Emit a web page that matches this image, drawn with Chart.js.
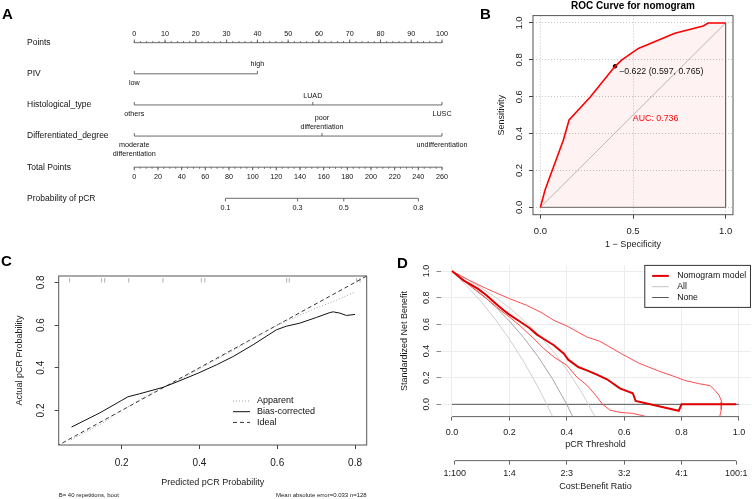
<!DOCTYPE html>
<html><head><meta charset="utf-8">
<title>Nomogram, ROC, calibration and decision curve</title>
<script src="https://cdn.jsdelivr.net/npm/chart.js@4.4.1/dist/chart.umd.min.js"></script>
<style>
html,body{margin:0;padding:0;background:#fff;}
body{position:relative;width:752px;height:499px;overflow:hidden;}
canvas{position:absolute;}
.lt{position:absolute;font:bold 15px/15px 'Liberation Sans',Arial,sans-serif;color:#000;}
</style></head>
<body>
<canvas id="cA" width="480" height="250" style="left:0;top:0;width:480px;height:250px"></canvas>
<canvas id="cB" width="272" height="250" style="left:480px;top:0;width:272px;height:250px"></canvas>
<canvas id="cC" width="376" height="249" style="left:0;top:250px;width:376px;height:249px"></canvas>
<canvas id="cD" width="376" height="249" style="left:376px;top:250px;width:376px;height:249px"></canvas>
<div class="lt" style="left:2px;top:6px">A</div>
<div class="lt" style="left:480px;top:6px">B</div>
<div class="lt" style="left:1px;top:253px">C</div>
<div class="lt" style="left:397px;top:255px">D</div>
<script>
// ================= DATA =================
// Panel A: nomogram
const nomoRows = ['Points','PIV','Histological_type','Differentiated_degree','Total Points','Probability of pCR'];
const pointsLabels = [0,10,20,30,40,50,60,70,80,90,100];
const pointsMinorStep = 2;
const pivLevels = ['low','high'];
const pivPoints = [0,40];
const histLevels = ['others','LUAD','LUSC'];
const histPoints = [0,58,100];
const diffLevels = [['moderate','differentiation'],['poor','differentiation'],['undifferentiation']];
const diffPoints = [0,61,100];
const totalLabels = [0,20,40,60,80,100,120,140,160,180,200,220,240,260];
const totalMinorStep = 5;
const probLabels = ['0.1','0.3','0.5','0.8'];
const probTotals = [77,138,177,240];

// Panel B: ROC
const rocFpr = [0,0.025,0.124,0.155,0.268,0.403,0.44,0.529,0.726,0.879,0.906,1];
const rocTpr = [0,0.094,0.365,0.474,0.597,0.765,0.80,0.862,0.944,0.984,1.0,1.0];
const cutFpr = [0.403];
const cutTpr = [0.765];
const cutText = '\u22120.622 (0.597, 0.765)';
const aucText = 'AUC: 0.736';
const aucTextPos = [0.622, 0.483];
const diagX = [0,1];
const diagY = [0,1];
const rocXTicks = [0,0.5,1];
const rocYTicks = [0,0.2,0.4,0.6,0.8,1];

// Panel C: calibration
const calPredBias = [0.071,0.143,0.2,0.216,0.246,0.306,0.341,0.397,0.444,0.487,0.538,0.598,0.624,0.658,0.701,0.736,0.744,0.761,0.778,0.8];
const calObsBias  = [0.122,0.188,0.247,0.264,0.278,0.308,0.333,0.375,0.414,0.453,0.508,0.578,0.595,0.609,0.636,0.659,0.662,0.656,0.645,0.65];
const calPredApp = [0.07,0.15,0.2,0.25,0.3,0.35,0.4,0.45,0.5,0.55,0.6,0.65,0.7,0.75,0.8];
const calObsApp  = [0.063,0.14,0.2,0.255,0.302,0.345,0.395,0.445,0.495,0.55,0.6,0.64,0.68,0.715,0.755];
const idealX = [0,1];
const idealY = [0,1];
const rugPred = [0.066,0.148,0.156,0.218,0.306,0.405,0.414,0.624,0.631,0.804,0.813];
const calTicks = [0.2,0.4,0.6,0.8];
const calLegend = ['Apparent','Bias-corrected','Ideal'];
const calFootLeft = 'B= 40 repetitions, boot';
const calFootRight = 'Mean absolute error=0.033 n=128';

// Panel D: decision curve
const nomoThr = [0,0.04,0.09,0.12,0.155,0.18,0.2,0.235,0.27,0.295,0.32,0.355,0.39,0.405,0.44,0.47,0.505,0.54,0.585,0.63,0.64,0.79,0.80,0.99];
const nomoNB  = [1,0.93,0.868,0.818,0.75,0.705,0.673,0.623,0.573,0.525,0.49,0.443,0.38,0.335,0.28,0.255,0.223,0.188,0.12,0.083,0.025,-0.048,0,0];
const nomoHiThr = [0,0.06,0.12,0.2,0.26,0.31,0.355,0.4,0.47,0.515,0.59,0.65,0.72,0.78,0.81,0.86,0.9,0.915,0.93,0.94,0.938,0.933];
const nomoHiNB  = [1,0.93,0.868,0.793,0.743,0.69,0.63,0.588,0.505,0.473,0.38,0.31,0.25,0.205,0.18,0.155,0.14,0.107,0.07,0.02,-0.04,-0.093];
const nomoLoThr = [0,0.06,0.12,0.155,0.2,0.235,0.285,0.32,0.355,0.4,0.435,0.47,0.5,0.525,0.55,0.585,0.63,0.68];
const nomoLoNB  = [1,0.893,0.793,0.73,0.655,0.593,0.493,0.418,0.355,0.293,0.205,0.143,0.07,0,-0.043,-0.06,-0.068,-0.093];
const allThr = [0,0.05,0.1,0.15,0.2,0.25,0.3,0.35,0.4,0.42];
const allNB  = [1,0.92,0.833,0.735,0.625,0.5,0.357,0.192,0,-0.09];
const allLoThr = [0,0.05,0.1,0.15,0.2,0.25,0.3,0.33,0.35];
const allLoNB  = [1,0.89,0.775,0.64,0.49,0.32,0.13,0,-0.09];
const allHiThr = [0,0.05,0.1,0.15,0.2,0.25,0.3,0.35,0.4,0.45,0.475,0.5];
const allHiNB  = [1,0.94,0.877,0.805,0.724,0.63,0.525,0.405,0.263,0.096,0,-0.1];
const noneThr = [0,1];
const noneNB  = [0,0];
const dcaTicks = [0,0.2,0.4,0.6,0.8,1];
const costThr = [0.0099,0.2,0.4,0.6,0.8,0.9901];
const costLabels = ['1:100','1:4','2:3','3:2','4:1','100:1'];
const dcaLegend = ['Nomogram model','All','None'];

// ================= SETUP =================
const FONT = "'Liberation Sans', Arial, Helvetica, sans-serif";
Chart.defaults.font.family = FONT;
Chart.defaults.color = '#1a1a1a';
Chart.defaults.animation = false;
Chart.defaults.events = [];
Chart.defaults.plugins.legend.display = false;
Chart.defaults.plugins.tooltip.enabled = false;
const zip = (xs, ys) => xs.map((x, i) => ({x: x, y: ys[i]}));
const fixTicks = vals => (s => { s.ticks = vals.map(v => ({value: v})); });
const f1 = v => Number(v).toFixed(1);

// ================= PANEL A =================
const axisDs = (x0, x1, row, axisId) => ({
  type: 'line', data: [{x: x0, y: row}, {x: x1, y: row}], xAxisID: axisId,
  borderColor: '#5a5a5a', borderWidth: 0.9, pointRadius: 0, clip: false
});
const nomoPlugin = {
  id: 'nomo',
  afterDatasetsDraw(chart) {
    const ctx = chart.ctx, sx = chart.scales.x, st = chart.scales.xt, sy = chart.scales.y;
    const rowY = i => sy.getPixelForValue(i);
    ctx.save();
    ctx.fillStyle = '#111';
    ctx.textBaseline = 'middle';
    ctx.font = '8.5px ' + FONT; ctx.textAlign = 'left';
    nomoRows.forEach((t, i) => ctx.fillText(t, 27, rowY(i)));
    ctx.strokeStyle = '#5a5a5a'; ctx.lineWidth = 0.9;
    const tick = (px, y, len) => { ctx.beginPath(); ctx.moveTo(px, y); ctx.lineTo(px, y + len); ctx.stroke(); };
    ctx.font = '7.2px ' + FONT; ctx.textAlign = 'center';
    // Points axis
    let y = rowY(0);
    for (let v = pointsLabels[0]; v <= pointsLabels[pointsLabels.length - 1]; v += pointsMinorStep) tick(sx.getPixelForValue(v), y, -1.6);
    pointsLabels.forEach(v => { const px = sx.getPixelForValue(v); tick(px, y, -3.2); ctx.fillText(String(v), px, y - 8.7); });
    // categorical predictors
    const cat = (levels, pts, row) => {
      const yy = rowY(row);
      pts.forEach((p, k) => {
        const px = sx.getPixelForValue(p);
        tick(px, yy, -3);
        const lines = Array.isArray(levels[k]) ? levels[k] : [levels[k]];
        const above = k % 2 === 1;
        lines.forEach((ln, j) => {
          const off = above ? -(9.3 + 8.7 * (lines.length - 1 - j)) : (9.3 + 8.7 * j);
          ctx.fillText(ln, px, yy + off);
        });
      });
    };
    cat(pivLevels, pivPoints, 1);
    cat(histLevels, histPoints, 2);
    cat(diffLevels, diffPoints, 3);
    // Total points
    y = rowY(4);
    for (let v = totalLabels[0]; v <= totalLabels[totalLabels.length - 1]; v += totalMinorStep) tick(st.getPixelForValue(v), y, 1.6);
    totalLabels.forEach(v => { const px = st.getPixelForValue(v); tick(px, y, 3.2); ctx.fillText(String(v), px, y + 9.8); });
    // Probability
    y = rowY(5);
    probTotals.forEach((v, k) => { const px = st.getPixelForValue(v); tick(px, y, 3.2); ctx.fillText(probLabels[k], px, y + 9.4); });
    ctx.restore();
  }
};
new Chart(document.getElementById('cA'), {
  type: 'scatter',
  data: { datasets: [
    axisDs(pointsLabels[0], pointsLabels[pointsLabels.length - 1], 0, 'x'),
    axisDs(pivPoints[0], pivPoints[pivPoints.length - 1], 1, 'x'),
    axisDs(histPoints[0], histPoints[histPoints.length - 1], 2, 'x'),
    axisDs(diffPoints[0], diffPoints[diffPoints.length - 1], 3, 'x'),
    axisDs(totalLabels[0], totalLabels[totalLabels.length - 1], 4, 'xt'),
    axisDs(probTotals[0], probTotals[probTotals.length - 1], 5, 'xt')
  ]},
  options: {
    responsive: false,
    layout: { padding: { left: 134.3, right: 38, top: 42.7, bottom: 51.7 } },
    scales: {
      x: { type: 'linear', min: 0, max: 100, display: false },
      xt: { type: 'linear', axis: 'x', min: 0, max: 260, display: false },
      y: { type: 'linear', min: 0, max: 5, reverse: true, display: false }
    }
  },
  plugins: [nomoPlugin]
});

// ================= PANEL B =================
const rocPlugin = {
  id: 'rocDeco',
  afterDatasetsDraw(chart) {
    const ctx = chart.ctx, a = chart.chartArea, sx = chart.scales.x, sy = chart.scales.y;
    ctx.save();
    ctx.strokeStyle = '#555'; ctx.lineWidth = 1;
    ctx.strokeRect(a.left, a.top, a.right - a.left, a.bottom - a.top);
    ctx.font = '8.8px ' + FONT; ctx.textBaseline = 'middle';
    ctx.fillStyle = '#111'; ctx.textAlign = 'left';
    ctx.fillText(cutText, sx.getPixelForValue(cutFpr[0]) + 4, sy.getPixelForValue(cutTpr[0]) + 5.5);
    ctx.fillStyle = '#ff0000'; ctx.textAlign = 'center';
    ctx.fillText(aucText, sx.getPixelForValue(aucTextPos[0]), sy.getPixelForValue(aucTextPos[1]));
    ctx.restore();
  }
};
const rocGrid = { display: true, drawOnChartArea: true, color: '#c4c4c4', tickColor: '#444', tickLength: 4, lineWidth: 1 };
new Chart(document.getElementById('cB'), {
  type: 'scatter',
  data: { datasets: [
    { type: 'line', data: zip(rocFpr, rocTpr), borderColor: '#ff0000', borderWidth: 1.6, pointRadius: 0, order: 0 },
    { data: zip(cutFpr, cutTpr), pointRadius: 1.8, backgroundColor: '#000', borderColor: '#000', order: 0 },
    { type: 'line', data: [{x: 1, y: 1}, {x: 1, y: 0}, {x: 0, y: 0}], borderColor: '#666', borderWidth: 1, pointRadius: 0, order: 1 },
    { type: 'line', data: zip(diagX, diagY), borderColor: '#a8a8a8', borderWidth: 0.8, pointRadius: 0, order: 2 },
    { type: 'line', data: zip(rocFpr, rocTpr), fill: 'origin', backgroundColor: 'rgba(255,0,0,0.05)', borderWidth: 0, borderColor: 'rgba(0,0,0,0)', pointRadius: 0, order: 3 }
  ]},
  options: {
    responsive: false,
    layout: { padding: { left: 0, right: 19, top: 0, bottom: 0 } },
    plugins: {
      title: { display: true, text: 'ROC Curve for nomogram', color: '#000', font: { size: 10, weight: 'bold' }, padding: { top: 0, bottom: 3.6 }, fullSize: false }
    },
    scales: {
      x: {
        type: 'linear', min: -0.04, max: 1.04, afterBuildTicks: fixTicks(rocXTicks),
        ticks: { callback: f1, font: { size: 9.5 }, padding: 6.6, autoSkip: false, maxRotation: 0, color: '#1a1a1a' },
        grid: rocGrid, border: { display: false, dash: [1, 2] },
        title: { display: true, text: '1 \u2212 Specificity', font: { size: 9 }, padding: { top: 0, bottom: 0 }, color: '#1a1a1a' },
        afterFit: s => { s.height = 35.3; }
      },
      y: {
        type: 'linear', min: -0.04, max: 1.04, afterBuildTicks: fixTicks(rocYTicks),
        ticks: { callback: f1, font: { size: 9.5 }, padding: 3.4, autoSkip: false, minRotation: 90, maxRotation: 90, crossAlign: 'center', color: '#1a1a1a' },
        grid: rocGrid, border: { display: false, dash: [1, 2] },
        title: { display: true, text: 'Sensitivity', font: { size: 9 }, padding: { top: 16.3, bottom: 0 }, color: '#1a1a1a' },
        afterFit: s => { s.width = 53; }
      }
    }
  },
  plugins: [rocPlugin]
});

// ================= PANEL C =================
const calStyles = [
  { color: '#a0a0a0', dash: [1, 2], width: 1 },
  { color: '#111', dash: [], width: 1 },
  { color: '#333', dash: [4, 3], width: 1 }
];
const calPlugin = {
  id: 'calDeco',
  afterDatasetsDraw(chart) {
    const ctx = chart.ctx, a = chart.chartArea;
    ctx.save();
    ctx.strokeStyle = '#555'; ctx.lineWidth = 1;
    ctx.strokeRect(a.left, a.top, a.right - a.left, a.bottom - a.top);
    // legend
    ctx.font = '9px ' + FONT; ctx.textBaseline = 'middle'; ctx.textAlign = 'left'; ctx.fillStyle = '#111';
    calLegend.forEach((t, i) => {
      const y = 151 + i * 10.7, st = calStyles[i];
      ctx.strokeStyle = st.color; ctx.lineWidth = st.width; ctx.setLineDash(st.dash);
      ctx.beginPath(); ctx.moveTo(233, y); ctx.lineTo(250, y); ctx.stroke();
      ctx.setLineDash([]);
      ctx.fillText(t, 257, y);
    });
    // footer
    ctx.font = '6px ' + FONT; ctx.fillStyle = '#222';
    ctx.textAlign = 'left'; ctx.fillText(calFootLeft, a.left, 245);
    ctx.textAlign = 'right'; ctx.fillText(calFootRight, a.right, 245);
    ctx.restore();
  }
};
const calGrid = { display: true, drawOnChartArea: false, color: '#444', tickColor: '#444', tickLength: 4, lineWidth: 1 };
new Chart(document.getElementById('cC'), {
  type: 'scatter',
  data: { datasets: [
    { type: 'line', data: zip(calPredBias, calObsBias), borderColor: calStyles[1].color, borderWidth: 1, pointRadius: 0, order: 0 },
    { type: 'line', data: zip(calPredApp, calObsApp), borderColor: calStyles[0].color, borderDash: calStyles[0].dash, borderWidth: 1, pointRadius: 0, order: 1 },
    { type: 'line', data: zip(idealX, idealY), borderColor: calStyles[2].color, borderDash: calStyles[2].dash, borderWidth: 1, pointRadius: 0, order: 2 },
    { data: rugPred.map(v => ({x: v, y: 0.81})), pointStyle: 'line', rotation: 90, pointRadius: 2.2, borderColor: '#bdbdbd', borderWidth: 1.2, order: 3 }
  ]},
  options: {
    responsive: false,
    layout: { padding: { left: 0, right: 9.3, top: 26, bottom: 0 } },
    scales: {
      x: {
        type: 'linear', min: 0.038, max: 0.83, afterBuildTicks: fixTicks(calTicks),
        ticks: { callback: f1, font: { size: 10 }, padding: 8, autoSkip: false, maxRotation: 0, color: '#1a1a1a' },
        grid: calGrid, border: { display: false },
        title: { display: true, text: 'Predicted pCR Probability', font: { size: 9 }, padding: { top: 0, bottom: 10.6 }, color: '#1a1a1a' },
        afterFit: s => { s.height = 54; }
      },
      y: {
        type: 'linear', min: 0.038, max: 0.83, afterBuildTicks: fixTicks(calTicks),
        ticks: { callback: f1, font: { size: 10 }, padding: 6, autoSkip: false, minRotation: 90, maxRotation: 90, crossAlign: 'center', color: '#1a1a1a' },
        grid: calGrid, border: { display: false },
        title: { display: true, text: 'Actual pCR Probability', font: { size: 9 }, padding: { top: 14.6, bottom: 0 }, color: '#1a1a1a' },
        afterFit: s => { s.width = 58.7; }
      }
    }
  },
  plugins: [calPlugin]
});

// ================= PANEL D =================
const dcaStyles = [
  { color: '#e00000', width: 2 },
  { color: '#c4c4c4', width: 1 },
  { color: '#555', width: 1 }
];
const dcaPlugin = {
  id: 'dcaDeco',
  afterDatasetsDraw(chart) {
    const ctx = chart.ctx, a = chart.chartArea, sx = chart.scales.x, s2 = chart.scales.x2;
    ctx.save();
    ctx.strokeStyle = '#666'; ctx.lineWidth = 1;
    ctx.beginPath(); ctx.moveTo(sx.getPixelForValue(dcaTicks[0]), a.bottom); ctx.lineTo(sx.getPixelForValue(dcaTicks[dcaTicks.length - 1]), a.bottom); ctx.stroke();
    ctx.beginPath(); ctx.moveTo(s2.getPixelForValue(costThr[0]), s2.top); ctx.lineTo(s2.getPixelForValue(costThr[costThr.length - 1]), s2.top); ctx.stroke();
    // legend box
    const bx = a.right - 105.7, by = a.top, bw = 105.7, bh = 42;
    ctx.fillStyle = '#fff'; ctx.fillRect(bx, by, bw, bh);
    ctx.strokeStyle = '#333'; ctx.strokeRect(bx, by, bw, bh);
    ctx.font = '8.7px ' + FONT; ctx.textBaseline = 'middle'; ctx.textAlign = 'left'; ctx.fillStyle = '#111';
    dcaLegend.forEach((t, i) => {
      const y = by + 10.5 + i * 10.8, st = dcaStyles[i];
      ctx.strokeStyle = st.color; ctx.lineWidth = st.width;
      ctx.beginPath(); ctx.moveTo(bx + 7.4, y); ctx.lineTo(bx + 24, y); ctx.stroke();
      ctx.fillText(t, bx + 32.4, y);
    });
    ctx.restore();
  }
};
const dline = (xs, ys, color, width, order) => ({ type: 'line', data: zip(xs, ys), borderColor: color, borderWidth: width, pointRadius: 0, order: order });
new Chart(document.getElementById('cD'), {
  type: 'scatter',
  data: { datasets: [
    dline(nomoThr, nomoNB, dcaStyles[0].color, 2, 0),
    dline(nomoHiThr, nomoHiNB, '#ff4d4d', 1, 1),
    dline(nomoLoThr, nomoLoNB, '#ff4d4d', 1, 1),
    dline(allThr, allNB, '#a6a6a6', 1, 2),
    dline(allLoThr, allLoNB, '#cfcfcf', 1, 3),
    dline(allHiThr, allHiNB, '#cfcfcf', 1, 3),
    dline(noneThr, noneNB, dcaStyles[2].color, 1, 4)
  ]},
  options: {
    responsive: false,
    layout: { padding: { left: 0, right: 1.2, top: 15.4, bottom: 0 } },
    scales: {
      x: {
        type: 'linear', min: -0.04, max: 1.04, weight: 0, afterBuildTicks: fixTicks(dcaTicks),
        ticks: { callback: f1, font: { size: 9 }, padding: 6.7, autoSkip: false, maxRotation: 0, color: '#1a1a1a' },
        grid: { display: true, drawOnChartArea: true, color: '#ececec', tickColor: '#666', tickLength: 4, lineWidth: 1 },
        border: { display: false },
        title: { display: true, text: 'pCR Threshold', font: { size: 9 }, padding: { top: 0, bottom: 10.2 }, color: '#1a1a1a' },
        afterFit: s => { s.height = 44; }
      },
      x2: {
        type: 'linear', axis: 'x', position: 'bottom', min: -0.04, max: 1.04, weight: 1, afterBuildTicks: fixTicks(costThr),
        ticks: { callback: (v, i) => costLabels[i], font: { size: 9 }, padding: 3.3, autoSkip: false, maxRotation: 0, color: '#1a1a1a' },
        grid: { display: true, drawOnChartArea: false, color: '#666', tickColor: '#666', tickLength: 4, lineWidth: 1 },
        border: { display: false },
        title: { display: true, text: 'Cost:Benefit Ratio', font: { size: 9 }, padding: { top: 0, bottom: 6.9 }, color: '#1a1a1a' },
        afterFit: s => { s.height = 38.4; }
      },
      y: {
        type: 'linear', min: -0.092, max: 1.042, afterBuildTicks: fixTicks(dcaTicks),
        ticks: { callback: f1, font: { size: 9 }, padding: 4.2, autoSkip: false, minRotation: 90, maxRotation: 90, crossAlign: 'center', color: '#1a1a1a' },
        grid: { display: true, drawOnChartArea: true, color: '#ececec', tickColor: '#888', tickLength: 4, lineWidth: 1 },
        border: { display: false },
        title: { display: true, text: 'Standardized Net Benefit', font: { size: 9 }, padding: { top: 22.9, bottom: 0 }, color: '#1a1a1a' },
        afterFit: s => { s.width = 64.5; }
      }
    }
  },
  plugins: [dcaPlugin]
});
</script>
</body></html>
